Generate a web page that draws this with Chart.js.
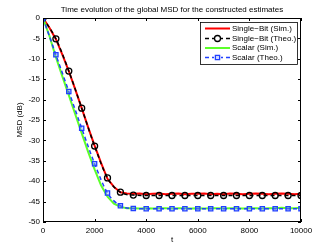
<!DOCTYPE html>
<html>
<head>
<meta charset="utf-8">
<script src="https://cdn.jsdelivr.net/npm/chart.js"></script>
<style>
  body { margin: 0; background: #fff; }
  #wrap { width: 332px; height: 250px; }
</style>
</head>
<body>
<div id="wrap"><canvas id="msd"></canvas></div>
<script>
// time axis for the simulated curves (every 250) and the theory markers (every 500)
var tSim = [0,250,500,750,1000,1250,1500,1750,2000,2250,2500,2750,3000,3250,3500,3750,4000,4250,4500,4750,5000,
            5250,5500,5750,6000,6250,6500,6750,7000,7250,7500,7750,8000,8250,8500,8750,9000,9250,9500,9750,10000];
var tTheo = [0,500,1000,1500,2000,2500,3000,3500,4000,4500,5000,5500,6000,6500,7000,7500,8000,8500,9000,9500,10000];

var singleBitSim = [0,-2.4,-5.2,-9.0,-13.0,-17.5,-22.1,-26.8,-31.3,-35.5,-39.4,-41.4,-42.7,-43.0,-43.1,-43.0,-43.2,-43.1,-43.0,-43.2,-43.1,
                    -43.0,-43.2,-43.1,-43.1,-43.0,-43.2,-43.1,-43.2,-43.0,-43.1,-43.2,-43.1,-43.0,-43.1,-43.2,-43.1,-43.0,-43.1,-43.2,-43.1];
var singleBitTheo = [0,-5.1,-13.0,-22.1,-31.4,-39.2,-42.7,-43.4,-43.5,-43.5,-43.5,-43.5,-43.5,-43.5,-43.5,-43.5,-43.5,-43.5,-43.5,-43.5,-43.5];
var scalarSim = [0,-4.4,-9.6,-14.3,-18.9,-23.6,-28.2,-32.8,-37.1,-41.0,-43.8,-45.5,-46.3,-46.6,-46.6,-46.7,-46.6,-46.7,-46.6,-46.6,-46.7,
                 -46.6,-46.6,-46.7,-46.6,-46.7,-46.6,-46.6,-46.7,-46.6,-46.6,-46.7,-46.6,-46.6,-46.7,-46.6,-46.6,-46.5,-46.6,-46.6,-46.5];
var scalarTheo = [0,-9.0,-18.0,-27.0,-35.7,-42.9,-46.0,-46.7,-46.75,-46.75,-46.75,-46.75,-46.75,-46.75,-46.75,-46.75,-46.75,-46.75,-46.75,-46.75,-46.75];

var xTicks = [0,2000,4000,6000,8000,10000];
var yTicks = [0,-5,-10,-15,-20,-25,-30,-35,-40,-45,-50];
var chartTitle = 'Time evolution of the global MSD for the constructed estimates';

function pts(xs, ys) {
  return xs.map(function(x, i) { return {x: x, y: ys[i]}; });
}

var FONT = "'Liberation Sans', Arial, sans-serif";

// title over the axes, box round them, inward ticks on all four sides, legend inside top right
var matlabAxes = {
  id: 'matlabAxes',
  afterDraw: function(chart) {
    var ctx = chart.ctx, a = chart.chartArea;
    var xs = chart.scales.x, ys = chart.scales.y;
    ctx.save();
    ctx.fillStyle = '#000';
    ctx.font = '8px ' + FONT;
    ctx.textAlign = 'center';
    ctx.textBaseline = 'middle';
    ctx.fillText(chartTitle, (a.left + a.right) / 2, 9.5);
    ctx.textAlign = 'left';

    ctx.strokeStyle = '#000';
    ctx.lineWidth = 1;
    ctx.strokeRect(a.left + 0.5, a.top + 0.5, a.right - a.left - 1, a.bottom - a.top - 1);
    ctx.beginPath();
    xTicks.forEach(function(v) {
      var px = Math.round(xs.getPixelForValue(v)) + 0.5;
      ctx.moveTo(px, a.bottom); ctx.lineTo(px, a.bottom - 3);
      ctx.moveTo(px, a.top); ctx.lineTo(px, a.top + 3);
    });
    yTicks.forEach(function(v) {
      var py = Math.round(ys.getPixelForValue(v)) + 0.5;
      ctx.moveTo(a.left, py); ctx.lineTo(a.left + 3, py);
      ctx.moveTo(a.right, py); ctx.lineTo(a.right - 3, py);
    });
    ctx.stroke();

    // legend
    var bx = 200, by = 22, bw = 97, bh = 42;
    ctx.fillStyle = '#fff';
    ctx.fillRect(bx, by, bw, bh);
    ctx.lineWidth = 0.8;
    ctx.strokeRect(bx + 0.5, by + 0.5, bw, bh);
    var rows = [28.5, 38.5, 48, 57.5];
    chart.data.datasets.forEach(function(ds, i) {
      var y = rows[i];
      ctx.strokeStyle = ds.borderColor;
      ctx.lineWidth = ds.borderWidth;
      ctx.setLineDash(ds.borderDash || []);
      ctx.beginPath(); ctx.moveTo(205, y); ctx.lineTo(230, y); ctx.stroke();
      ctx.setLineDash([]);
      if (ds.pointRadius > 0) {
        ctx.fillStyle = '#fff';
        ctx.fillRect(214, y - 4, 7, 8);
        ctx.strokeStyle = ds.pointBorderColor;
        ctx.fillStyle = ds.pointBackgroundColor;
        ctx.lineWidth = ds.pointBorderWidth;
        Chart.helpers.drawPoint(ctx, {pointStyle: ds.pointStyle, radius: ds.pointRadius, rotation: 0, borderWidth: ds.pointBorderWidth}, 217.5, y);
      }
      ctx.fillStyle = '#000';
      ctx.fillText(ds.label, 232, y);
    });
    ctx.restore();
  }
};

new Chart(document.getElementById('msd'), {
  type: 'line',
  data: {
    datasets: [
      { label: 'Single\u2212Bit (Sim.)', data: pts(tSim, singleBitSim), borderColor: '#ff0000', borderWidth: 2,
        pointRadius: 0, order: 4 },
      { label: 'Single\u2212Bit (Theo.)', data: pts(tTheo, singleBitTheo), borderColor: '#000000', borderWidth: 1.5,
        borderDash: [4, 3], pointStyle: 'circle', pointRadius: 3, pointBorderWidth: 1.3,
        pointBorderColor: '#000000', pointBackgroundColor: 'rgba(0,0,0,0)', cubicInterpolationMode: 'monotone', order: 3 },
      { label: 'Scalar (Sim.)', data: pts(tSim, scalarSim), borderColor: '#5cff2a', borderWidth: 2,
        pointRadius: 0, order: 2 },
      { label: 'Scalar (Theo.)', data: pts(tTheo, scalarTheo), borderColor: '#2040ff', borderWidth: 1.5,
        borderDash: [4, 3], pointStyle: 'rect', pointRadius: 3, pointBorderWidth: 1.3,
        pointBorderColor: '#2040ff', pointBackgroundColor: 'rgba(120,150,255,0.35)', cubicInterpolationMode: 'monotone', order: 1 }
    ]
  },
  options: {
    responsive: true,
    maintainAspectRatio: false,
    animation: false,
    layout: { padding: { top: 18, right: 31, left: 0, bottom: 0 } },
    plugins: {
      legend: { display: false },
      tooltip: { enabled: false },
      title: { display: false }
    },
    scales: {
      x: {
        type: 'linear', min: 0, max: 10000,
        afterFit: function(s) { s.height = 28; },
        afterBuildTicks: function(s) { s.ticks = xTicks.map(function(v) { return {value: v}; }); },
        grid: { display: false, drawTicks: false },
        border: { display: false },
        ticks: { color: '#000', padding: 4, maxRotation: 0, font: { family: FONT, size: 8 },
                 callback: function(v) { return String(v); } },
        title: { display: true, text: 't', color: '#000', padding: { top: 0, bottom: 5 }, font: { family: FONT, size: 8 } }
      },
      y: {
        min: -50, max: 0,
        afterFit: function(s) { s.width = 43; },
        afterBuildTicks: function(s) { s.ticks = yTicks.map(function(v) { return {value: v}; }); },
        grid: { display: false, drawTicks: false },
        border: { display: false },
        ticks: { color: '#000', padding: 3, font: { family: FONT, size: 8 },
                 callback: function(v) { return String(v); } },
        title: { display: true, text: 'MSD (dB)', color: '#000', padding: { top: 15, bottom: 0 }, font: { family: FONT, size: 8 } }
      }
    }
  },
  plugins: [matlabAxes]
});
</script>
</body>
</html>
